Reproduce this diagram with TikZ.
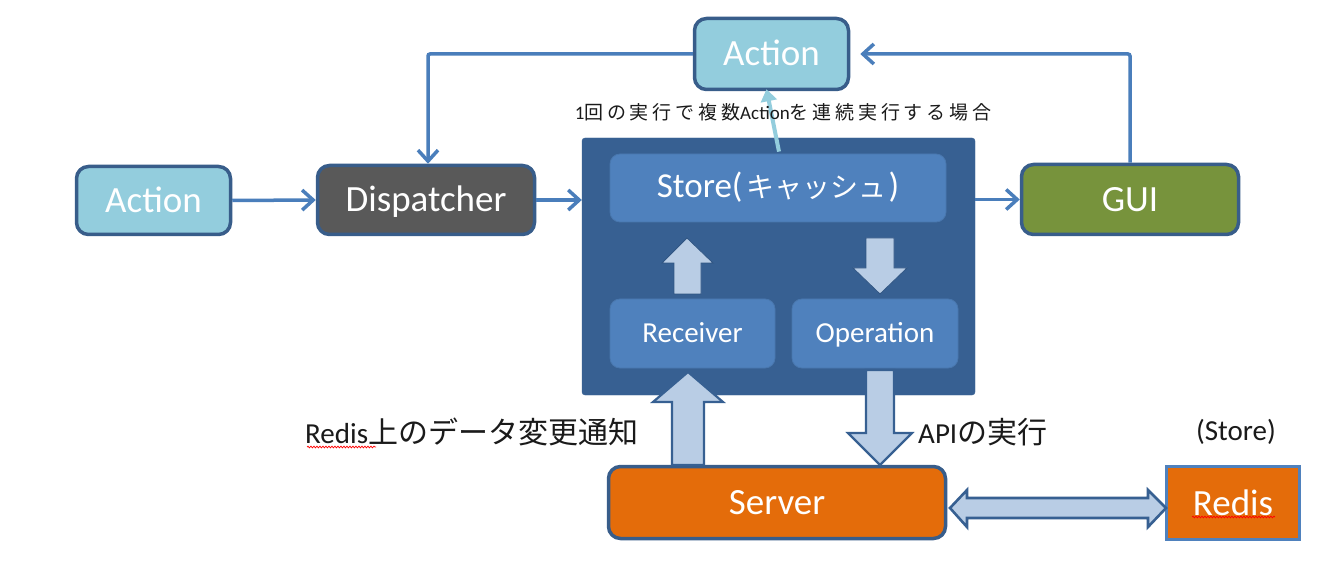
\documentclass[tikz,border=0pt]{standalone}
\usepackage{fontspec}
\setmainfont{Carlito}
\newfontfamily\jp{Noto Sans CJK JP}
\usetikzlibrary{arrows.meta,calc,decorations.pathmorphing}
\definecolor{bord}{HTML}{385D8A}
\definecolor{aqua}{HTML}{93CDDD}
\definecolor{darkgray}{HTML}{595959}
\definecolor{olive}{HTML}{77933C}
\definecolor{orange}{HTML}{E46C0A}
\definecolor{inblue}{HTML}{4F81BD}
\definecolor{storeblue}{HTML}{376092}
\definecolor{lineblue}{HTML}{4A7EBB}
\definecolor{arrfill}{HTML}{B9CDE5}
\definecolor{txt}{HTML}{1A1A1A}
\tikzset{
  box/.style={draw=bord, line width=3.5pt, rounded corners=12pt, text=white,
    font=\fontsize{37}{40}\selectfont, inner sep=0pt, text height=28pt, text depth=4pt},
  inbox/.style={fill=inblue, draw=inblue!92!black, line width=0.8pt, rounded corners=10pt,
    text=white, inner sep=0pt},
  conn/.style={draw=lineblue, line width=3.5pt, -{Straight Barb[length=11pt,width=20pt]}},
  blk/.style={fill=arrfill, draw=storeblue, line width=2.2pt, line join=miter},
  lbl/.style={text=txt, inner sep=0pt, font=\fontsize{29}{31}\selectfont},
  squig/.style={draw=red, line width=0.7pt, decorate, decoration={snake, amplitude=0.9pt, segment length=3pt}}
}
\begin{document}
\begin{tikzpicture}[x=1pt,y=-1pt]
\useasboundingbox[fill=white] (0,0) rectangle (1333,569);

% store container
\node[fill=storeblue, draw=storeblue, rounded corners=3pt, minimum width=393pt, minimum height=257pt, inner sep=0pt] (store) at (778.5,266.5) {};

% nodes
\node[box, fill=aqua, minimum width=154pt, minimum height=71pt] (actT) at (771.5,54) {Action};
\node[box, fill=aqua, minimum width=154pt, minimum height=68pt] (actL) at (153.5,200.5) {Action};
\node[box, fill=darkgray, minimum width=217pt, minimum height=69pt] (disp) at (426,200) {Dispatcher};
\node[box, fill=olive, minimum width=217pt, minimum height=70pt] (gui) at (1130,199.5) {GUI};
\node[box, fill=orange, minimum width=337pt, minimum height=72pt] (server) at (777,502.5) {Server};
\node[box, fill=orange, draw=inblue, rounded corners=0pt, minimum width=133pt, minimum height=73pt] (redis) at (1233,503) {Redis};

\node[inbox, minimum width=336pt, minimum height=68pt, font=\fontsize{35}{38}\selectfont, text height=26pt, text depth=6pt] (cache) at (778,188) {Store(\kern4pt{\jp\fontsize{28}{32}\selectfont キャッシュ}\kern2pt)};
\node[inbox, minimum width=165pt, minimum height=69pt, font=\fontsize{29}{32}\selectfont, text height=21pt, text depth=3pt] (rec) at (692.5,333.5) {Receiver};
\node[inbox, minimum width=166pt, minimum height=69pt, font=\fontsize{29}{32}\selectfont, text height=21pt, text depth=3pt] (op) at (875,333.5) {Operation};

% connectors
\draw[conn] (actL.east) -- (disp.west);
\draw[conn] (disp.east) -- (disp.east -| store.west);
\draw[conn] (gui.west -| store.east) -- (gui.west);
\draw[conn, shorten >=10pt, rounded corners=2pt] (gui.north) |- (actT.east);
\draw[conn, rounded corners=2pt] (actT.west) -| ($(disp.north)+(2,0)$);
\draw[draw=aqua, line width=4pt, -{Triangle[length=12pt,width=16pt]}] ($(cache.north)+(1,-2)$) -- ($(actT.south)+(-5,-2)$);

\node[text=txt, inner sep=0pt, font=\fontsize{19}{21}\selectfont] (note) at (783,112)
  {1{\jp\addfontfeature{LetterSpace=20} 回の実行で複数}Action{\jp\addfontfeature{LetterSpace=20} を連続実行する場合}};

% block arrows inside store
\draw[blk, draw=storeblue!90!black, line width=0.8pt] (674,294) -- (701,294) -- (701,263) -- (713,263) -- (687,238) -- (662,263) -- (674,263) -- cycle;
\draw[blk, draw=storeblue!90!black, line width=0.8pt] (866,238) -- (894,238) -- (894,268) -- (907,268) -- (880,294) -- (853,268) -- (866,268) -- cycle;

% block arrows outside
\draw[blk] (672,465) -- (704,465) -- (704,402) -- (723,402) -- (688,372) -- (653,402) -- (672,402) -- cycle;
\draw[blk] (866,370) -- (894,370) -- (894,433) -- (912,433) -- (880,465) -- (848,433) -- (866,433) -- cycle;
\draw[blk, line width=2.6pt] (950,508) -- (967,490) -- (967,498) -- (1148,498) -- (1148,490) -- (1166,508) -- (1148,527) -- (1148,518) -- (967,518) -- (967,527) -- cycle;

% labels
\node[lbl, anchor=west] (lchg) at (305,432) {Redis{\jp\fontsize{30}{32}\selectfont 上のデータ変更通知}};
\node[lbl, anchor=west] (lapi) at (918,432) {API{\jp\fontsize{30}{32}\selectfont の実行}};
\node[lbl] (lstore) at (1236,432) {(Store)};

\draw[squig] (307,447) -- (376,447);
\draw[squig] (1192,517) -- (1275,517);
\end{tikzpicture}
\end{document}
